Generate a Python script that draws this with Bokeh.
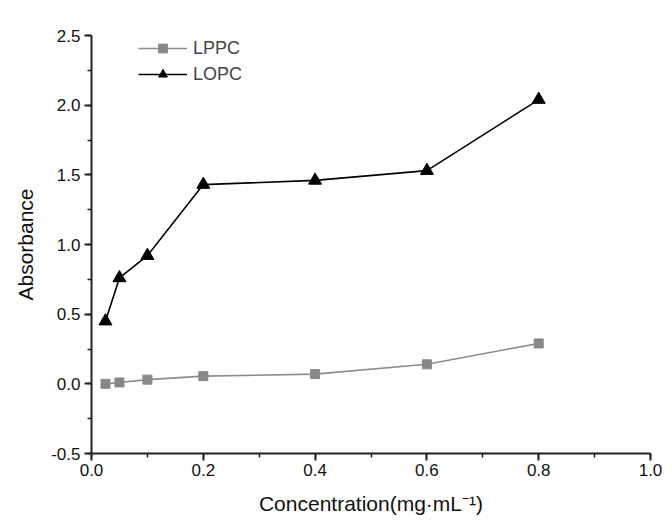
from bokeh.plotting import figure
from bokeh.models import Range1d, SingleIntervalTicker, Legend, LegendItem, NumeralTickFormatter
from bokeh.embed import file_html
from bokeh.resources import INLINE

concentration = [0.025, 0.05, 0.1, 0.2, 0.4, 0.6, 0.8]
lppc = [0.0, 0.01, 0.03, 0.055, 0.07, 0.14, 0.29]
lopc = [0.45, 0.76, 0.92, 1.43, 1.46, 1.53, 2.04]

FONT = "Liberation Sans"

p = figure(width=672, height=525, output_backend="svg", toolbar_location=None,
           x_range=Range1d(0, 1.0), y_range=Range1d(-0.5, 2.5),
           min_border_left=91, min_border_right=22, min_border_top=35, min_border_bottom=72)
p.outline_line_color = None
p.grid.visible = False
p.background_fill_color = "white"
p.border_fill_color = "white"

r1 = p.line(concentration, lppc, line_color="#8c8c8c", line_width=1.6)
r1m = p.scatter(concentration, lppc, marker="square", size=9, fill_color="#888888", line_color="#888888")
r2 = p.line(concentration, lopc, line_color="black", line_width=1.6)
r2m = p.scatter(concentration, lopc, marker="triangle", size=13, fill_color="black", line_color="black")

for ax in (p.xaxis[0], p.yaxis[0]):
    ax.axis_line_width = 2
    ax.axis_line_color = "#222222"
    ax.major_tick_line_width = 2
    ax.minor_tick_line_width = 1.5
    ax.major_tick_line_color = "#222222"
    ax.minor_tick_line_color = "#222222"
    ax.major_tick_out = 7
    ax.major_tick_in = 0
    ax.minor_tick_out = 4
    ax.minor_tick_in = 0
    ax.major_label_text_font = FONT
    ax.major_label_text_font_size = "17px"
    ax.major_label_text_color = "#111111"
    ax.axis_label_text_font = FONT
    ax.axis_label_text_font_size = "21px"
    ax.axis_label_text_font_style = "normal"
    ax.axis_label_text_color = "#111111"
    ax.formatter = NumeralTickFormatter(format="0.0")

p.xaxis.ticker = SingleIntervalTicker(interval=0.2, num_minor_ticks=2)
p.yaxis.ticker = SingleIntervalTicker(interval=0.5, num_minor_ticks=2)
p.xaxis.axis_label = "Concentration(mg·mL⁻¹)"
p.yaxis.axis_label = "Absorbance"
p.xaxis.major_label_standoff = 3
p.yaxis.major_label_standoff = 4
p.xaxis.axis_label_standoff = 13
p.yaxis.axis_label_standoff = 11

legend = Legend(items=[LegendItem(label="LPPC", renderers=[r1, r1m]),
                       LegendItem(label="LOPC", renderers=[r2, r2m])],
                location=(47, 368), margin=0, padding=0, spacing=4,
                glyph_width=49, glyph_height=22, label_height=22, label_standoff=6,
                label_text_font=FONT, label_text_font_size="18px",
                border_line_color=None, background_fill_alpha=0)
p.add_layout(legend)

open("out.html", "w").write(file_html(p, INLINE))
